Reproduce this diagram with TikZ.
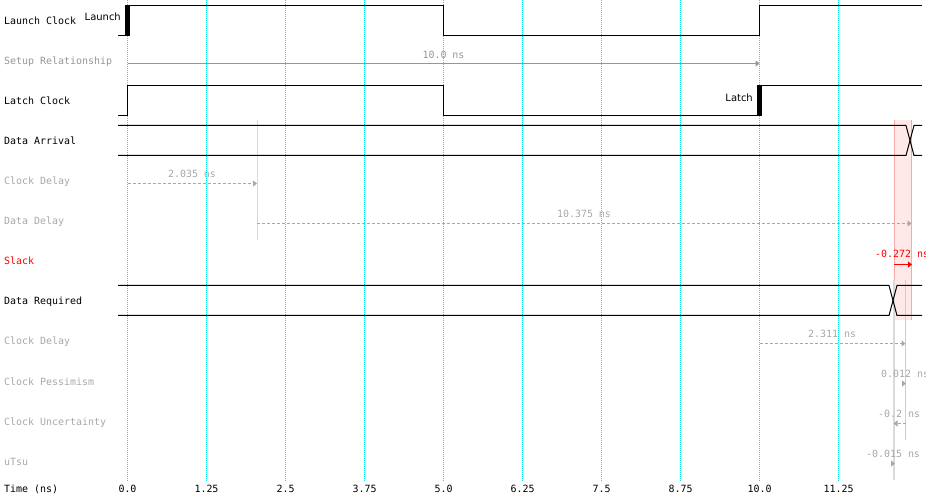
\documentclass[tikz,border=0pt]{standalone}
\usepackage{fontspec}
\setmainfont{DejaVu Sans}
\newfontfamily\monofont{DejaVu Sans Mono}
\usetikzlibrary{arrows.meta}
\definecolor{gridc}{RGB}{0,232,232}
\definecolor{lab}{RGB}{168,168,168}
\definecolor{setupc}{RGB}{150,150,150}
\definecolor{bandfill}{RGB}{255,232,232}
\definecolor{bandedge}{RGB}{242,170,170}
\definecolor{vlineA}{RGB}{218,218,218}
\definecolor{vlineB}{RGB}{205,205,205}
\begin{document}
\begin{tikzpicture}[x=1bp,y=-1bp,
  rowlab/.style={anchor=base west, font=\monofont\fontsize{10}{12}\selectfont, inner sep=0pt},
  ann/.style={anchor=base, font=\monofont\fontsize{10}{12}\selectfont, inner sep=0pt, text=lab},
  ticklab/.style={anchor=base, font=\monofont\fontsize{10}{12}\selectfont, inner sep=0pt},
  edgelab/.style={anchor=base east, font=\fontsize{10}{12}\selectfont, inner sep=0pt},
  gridline/.style={gridc, line width=1bp, dash pattern=on 1bp off 1bp},
  sig/.style={line width=1bp, black},
  tip/.style={-{Triangle[length=4bp,width=6bp]}},
  dly/.style={lab, line width=1bp, dash pattern=on 3bp off 2bp, tip}
]
\useasboundingbox (0,0) rectangle (926,495);
% grid
\foreach \i/\t/\x in {0/0.0/127.5,1/1.25/206.5,2/2.5/285.5,3/3.75/364.5,4/5.0/443.5,5/6.25/522.5,6/7.5/601.5,7/8.75/680.5,8/10.0/759.5,9/11.25/838.5}{
  \draw[gridline] (\x,0) -- (\x,481);
  \node[ticklab] (t\i) at (\x,492) {\t};
}
% row labels
\node[rowlab] (l1) at (4,25) {Launch Clock};
\node[rowlab, text=setupc] (l2) at (4,65) {Setup Relationship};
\node[rowlab] (l3) at (4,105) {Latch Clock};
\node[rowlab] (l4) at (4,145) {Data Arrival};
\node[rowlab, text=lab] (l5) at (4,185) {Clock Delay};
\node[rowlab, text=lab] (l6) at (4,225) {Data Delay};
\node[rowlab, text=red] (l7) at (4,265) {Slack};
\node[rowlab] (l8) at (4,305) {Data Required};
\node[rowlab, text=lab] (l9) at (4,345) {Clock Delay};
\node[rowlab, text=lab] (l10) at (4,385) {Clock Pessimism};
\node[rowlab, text=lab] (l11) at (4,425) {Clock Uncertainty};
\node[rowlab, text=lab] (l12) at (4,465) {uTsu};
\node[rowlab] (l13) at (4,492) {Time (ns)};
% slack band
\fill[bandfill] (894,120) rectangle (912,320);
\draw[bandedge, line width=1bp] (894.5,120) -- (894.5,320) (911.5,120) -- (911.5,320);
% vertical helper lines
\draw[vlineA, line width=1bp] (257,120) -- (257,240);
\draw[vlineA, line width=2bp] (894,280) -- (894,480);
\draw[vlineB, line width=1bp] (905.5,280) -- (905.5,440);
% launch clock
\draw[sig] (118,35.5) -- (127.5,35.5) -- (127.5,5.5) -- (443.5,5.5) -- (443.5,35.5) -- (759.5,35.5) -- (759.5,5.5) -- (922,5.5);
\fill[black] (125,5) rectangle (130,36);
\node[edgelab] (launch) at (121,21) {Launch};
% setup relationship
\coordinate (s0) at (127.5,63.5);
\coordinate (s1) at (759.5,63.5);
\draw[setupc, line width=1bp, tip] (s0) -- (s1);
\node[ann, text=setupc] (sl) at (443.5,58.5) {10.0 ns};
% latch clock
\draw[sig] (118,115.5) -- (127.5,115.5) -- (127.5,85.5) -- (443.5,85.5) -- (443.5,115.5) -- (759.5,115.5) -- (759.5,85.5) -- (922,85.5);
\fill[black] (757,85) rectangle (762,116);
\node[edgelab] (latch) at (753,101.5) {Latch};
% data arrival
\draw[sig] (118,125.5) -- (906,125.5) -- (914,155.5) -- (922,155.5);
\draw[sig] (118,155.5) -- (906,155.5) -- (914,125.5) -- (922,125.5);
% clock delay (arrival)
\coordinate (c0) at (127.5,183.5);
\coordinate (c1) at (257,183.5);
\draw[dly] (c0) -- (c1);
\node[ann] (cl) at (192,177.5) {2.035 ns};
% data delay
\coordinate (d0) at (257,223.5);
\coordinate (d1) at (911.5,223.5);
\draw[dly] (d0) -- (d1);
\node[ann] (dl) at (584,217.5) {10.375 ns};
% slack
\coordinate (k0) at (894,264.5);
\coordinate (k1) at (912,264.5);
\draw[red, line width=1bp, tip] (k0) -- (k1);
\node[ann, text=red] (kl) at (902,257.5) {-0.272 ns};
% data required
\draw[sig] (118,285.5) -- (889,285.5) -- (897,315.5) -- (922,315.5);
\draw[sig] (118,315.5) -- (889,315.5) -- (897,285.5) -- (922,285.5);
% clock delay (required)
\coordinate (r0) at (759.5,343.5);
\coordinate (r1) at (905.5,343.5);
\draw[dly] (r0) -- (r1);
\node[ann] (rl) at (832,337.5) {2.311 ns};
% clock pessimism
\coordinate (p0) at (902,383.5);
\coordinate (p1) at (906,383.5);
\draw[lab, line width=1bp, tip] (p0) -- (p1);
\node[ann] (pl) at (905,377.5) {0.012 ns};
% clock uncertainty
\coordinate (u0) at (905.5,423.5);
\coordinate (u1) at (893.5,423.5);
\draw[dly] (u0) -- (u1);
\node[ann] (ul) at (899,417.5) {-0.2 ns};
% uTsu
\coordinate (x0) at (891,463.5);
\coordinate (x1) at (895,463.5);
\draw[lab, line width=1bp, tip] (x0) -- (x1);
\node[ann] (xl) at (893,457.5) {-0.015 ns};
\end{tikzpicture}
\end{document}
